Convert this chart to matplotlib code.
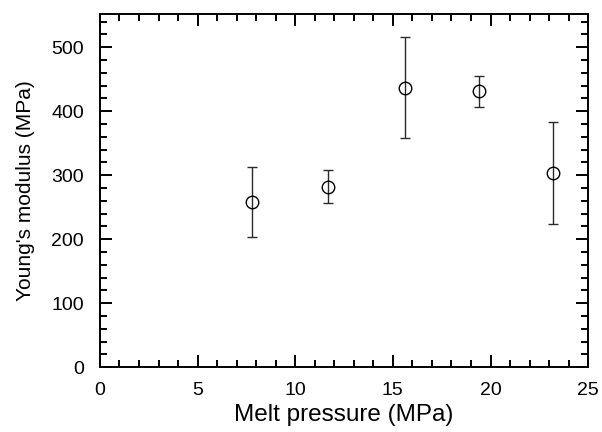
import matplotlib
matplotlib.use('Agg')
import matplotlib.pyplot as plt
from matplotlib.ticker import MultipleLocator

# melt pressure (MPa) vs Young's modulus (MPa)
pressure = [7.8, 11.7, 15.6, 19.4, 23.2]
modulus = [258, 281, 436, 431, 304]
err_low = [55, 25, 78, 25, 81]
err_high = [54, 27, 80, 24, 79]

plt.rcParams['font.family'] = ['Liberation Sans', 'DejaVu Sans']

fig = plt.figure(figsize=(6.02, 4.32), dpi=100)
ax = fig.add_axes([0.166, 0.150, 0.811, 0.818])

ax.errorbar(pressure, modulus, yerr=[err_low, err_high], fmt='o',
            mfc='none', mec='black', ms=9, mew=1.0,
            ecolor='#2a2a2a', elinewidth=1.0, capsize=3.5, capthick=1.0)

ax.set_xlim(0, 25)
ax.set_ylim(0, 552)
ax.xaxis.set_major_locator(MultipleLocator(5))
ax.xaxis.set_minor_locator(MultipleLocator(1))
ax.yaxis.set_major_locator(MultipleLocator(100))
ax.yaxis.set_minor_locator(MultipleLocator(20))
ax.tick_params(which='both', direction='in', top=True, right=True,
               labelsize=14, width=1.4)
ax.tick_params(axis='x', pad=10.5)
ax.tick_params(axis='y', pad=11.5)
ax.tick_params(which='major', length=8.5)
ax.tick_params(which='minor', length=5)
for s in ax.spines.values():
    s.set_linewidth(1.4)

ax.set_xlabel('Melt pressure (MPa)', fontsize=17.5, labelpad=4)
ax.set_ylabel("Young's modulus (MPa)", fontsize=15, labelpad=12)

fig.savefig('out.png', dpi=100)
